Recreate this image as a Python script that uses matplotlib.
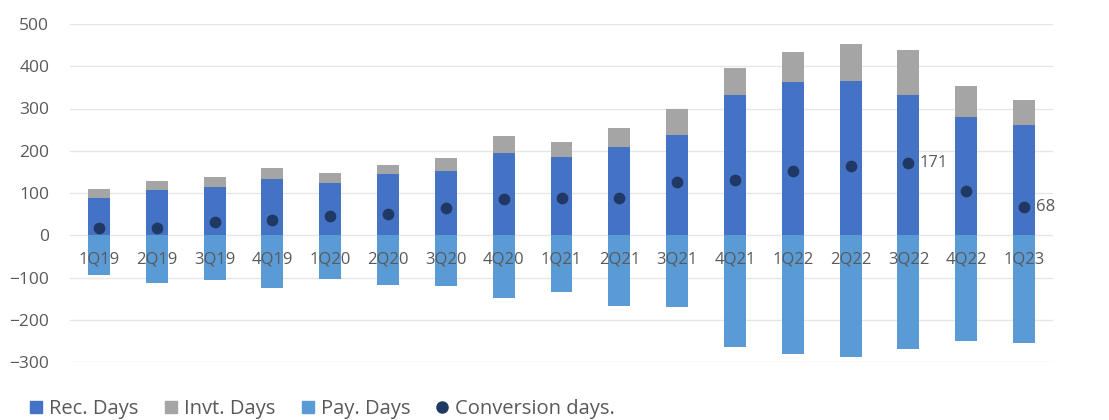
import numpy as np
import matplotlib.pyplot as plt
from matplotlib.lines import Line2D

quarters = ["1Q19", "2Q19", "3Q19", "4Q19", "1Q20", "2Q20", "3Q20", "4Q20",
            "1Q21", "2Q21", "3Q21", "4Q21", "1Q22", "2Q22", "3Q22", "4Q22", "1Q23"]
rec_days = [89, 108, 115, 133, 124, 145, 153, 195,
            186, 208, 238, 332, 363, 366, 333, 280, 261]
invt_days = [20, 21, 23, 26, 24, 22, 29, 39,
             35, 46, 60, 65, 71, 87, 106, 74, 59]
pay_days = [-93, -112, -107, -124, -103, -118, -119, -149,
            -134, -167, -169, -265, -282, -289, -270, -251, -254]
conv_days = [17, 17, 32, 36, 45, 50, 65, 85,
             88, 88, 127, 131, 152, 164, 171, 104, 68]
labelled = {"3Q22": "171", "1Q23": "68"}

c_rec = "#4472C4"
c_inv = "#A5A5A5"
c_pay = "#5B9BD5"
c_dot = "#203864"
c_txt = "#595959"

plt.rcParams['font.family'] = ['Open Sans', 'DejaVu Sans']

fig = plt.figure(figsize=(11.09, 4.2), dpi=100)
ax = fig.add_axes([70 / 1109, 58 / 420, 983 / 1109, 338 / 420])

x = np.arange(len(quarters))
w = 0.38
ax.bar(x, rec_days, w, color=c_rec, zorder=2)
ax.bar(x, invt_days, w, bottom=rec_days, color=c_inv, zorder=2)
ax.bar(x, pay_days, w, color=c_pay, zorder=2)
ax.scatter(x, conv_days, s=55, color=c_dot, zorder=3)

for i, q in enumerate(quarters):
    ax.text(x[i], -58, q, ha='center', va='center', fontsize=12, color=c_txt, zorder=4)
    if q in labelled:
        ax.text(x[i] + 0.2, conv_days[i], labelled[q], ha='left', va='center',
                fontsize=12, color=c_txt, zorder=4)

ax.set_xlim(-0.5, len(quarters) - 0.5)
ax.set_ylim(-300, 500)
ax.set_yticks(np.arange(-300, 501, 100))
ax.set_xticks([])
ax.tick_params(axis='y', length=0, labelsize=12.5, labelcolor=c_txt, pad=15)
ax.grid(axis='y', color='#E6E6E6', linewidth=1, zorder=0)
for s in ax.spines.values():
    s.set_visible(False)

handles = [
    Line2D([], [], marker='s', linestyle='', color=c_rec, markersize=9, label='Rec. Days'),
    Line2D([], [], marker='s', linestyle='', color=c_inv, markersize=9, label='Invt. Days'),
    Line2D([], [], marker='s', linestyle='', color=c_pay, markersize=9, label='Pay. Days'),
    Line2D([], [], marker='o', linestyle='', color=c_dot, markersize=8, label='Conversion days.'),
]
fig.legend(handles=handles, loc='lower left', bbox_to_anchor=(8 / 1109, -0.04), ncol=4,
           frameon=False, fontsize=14.5, labelcolor=c_txt, handletextpad=0.15,
           columnspacing=1.1, handlelength=1.0)

fig.savefig("out.png", dpi=100)
